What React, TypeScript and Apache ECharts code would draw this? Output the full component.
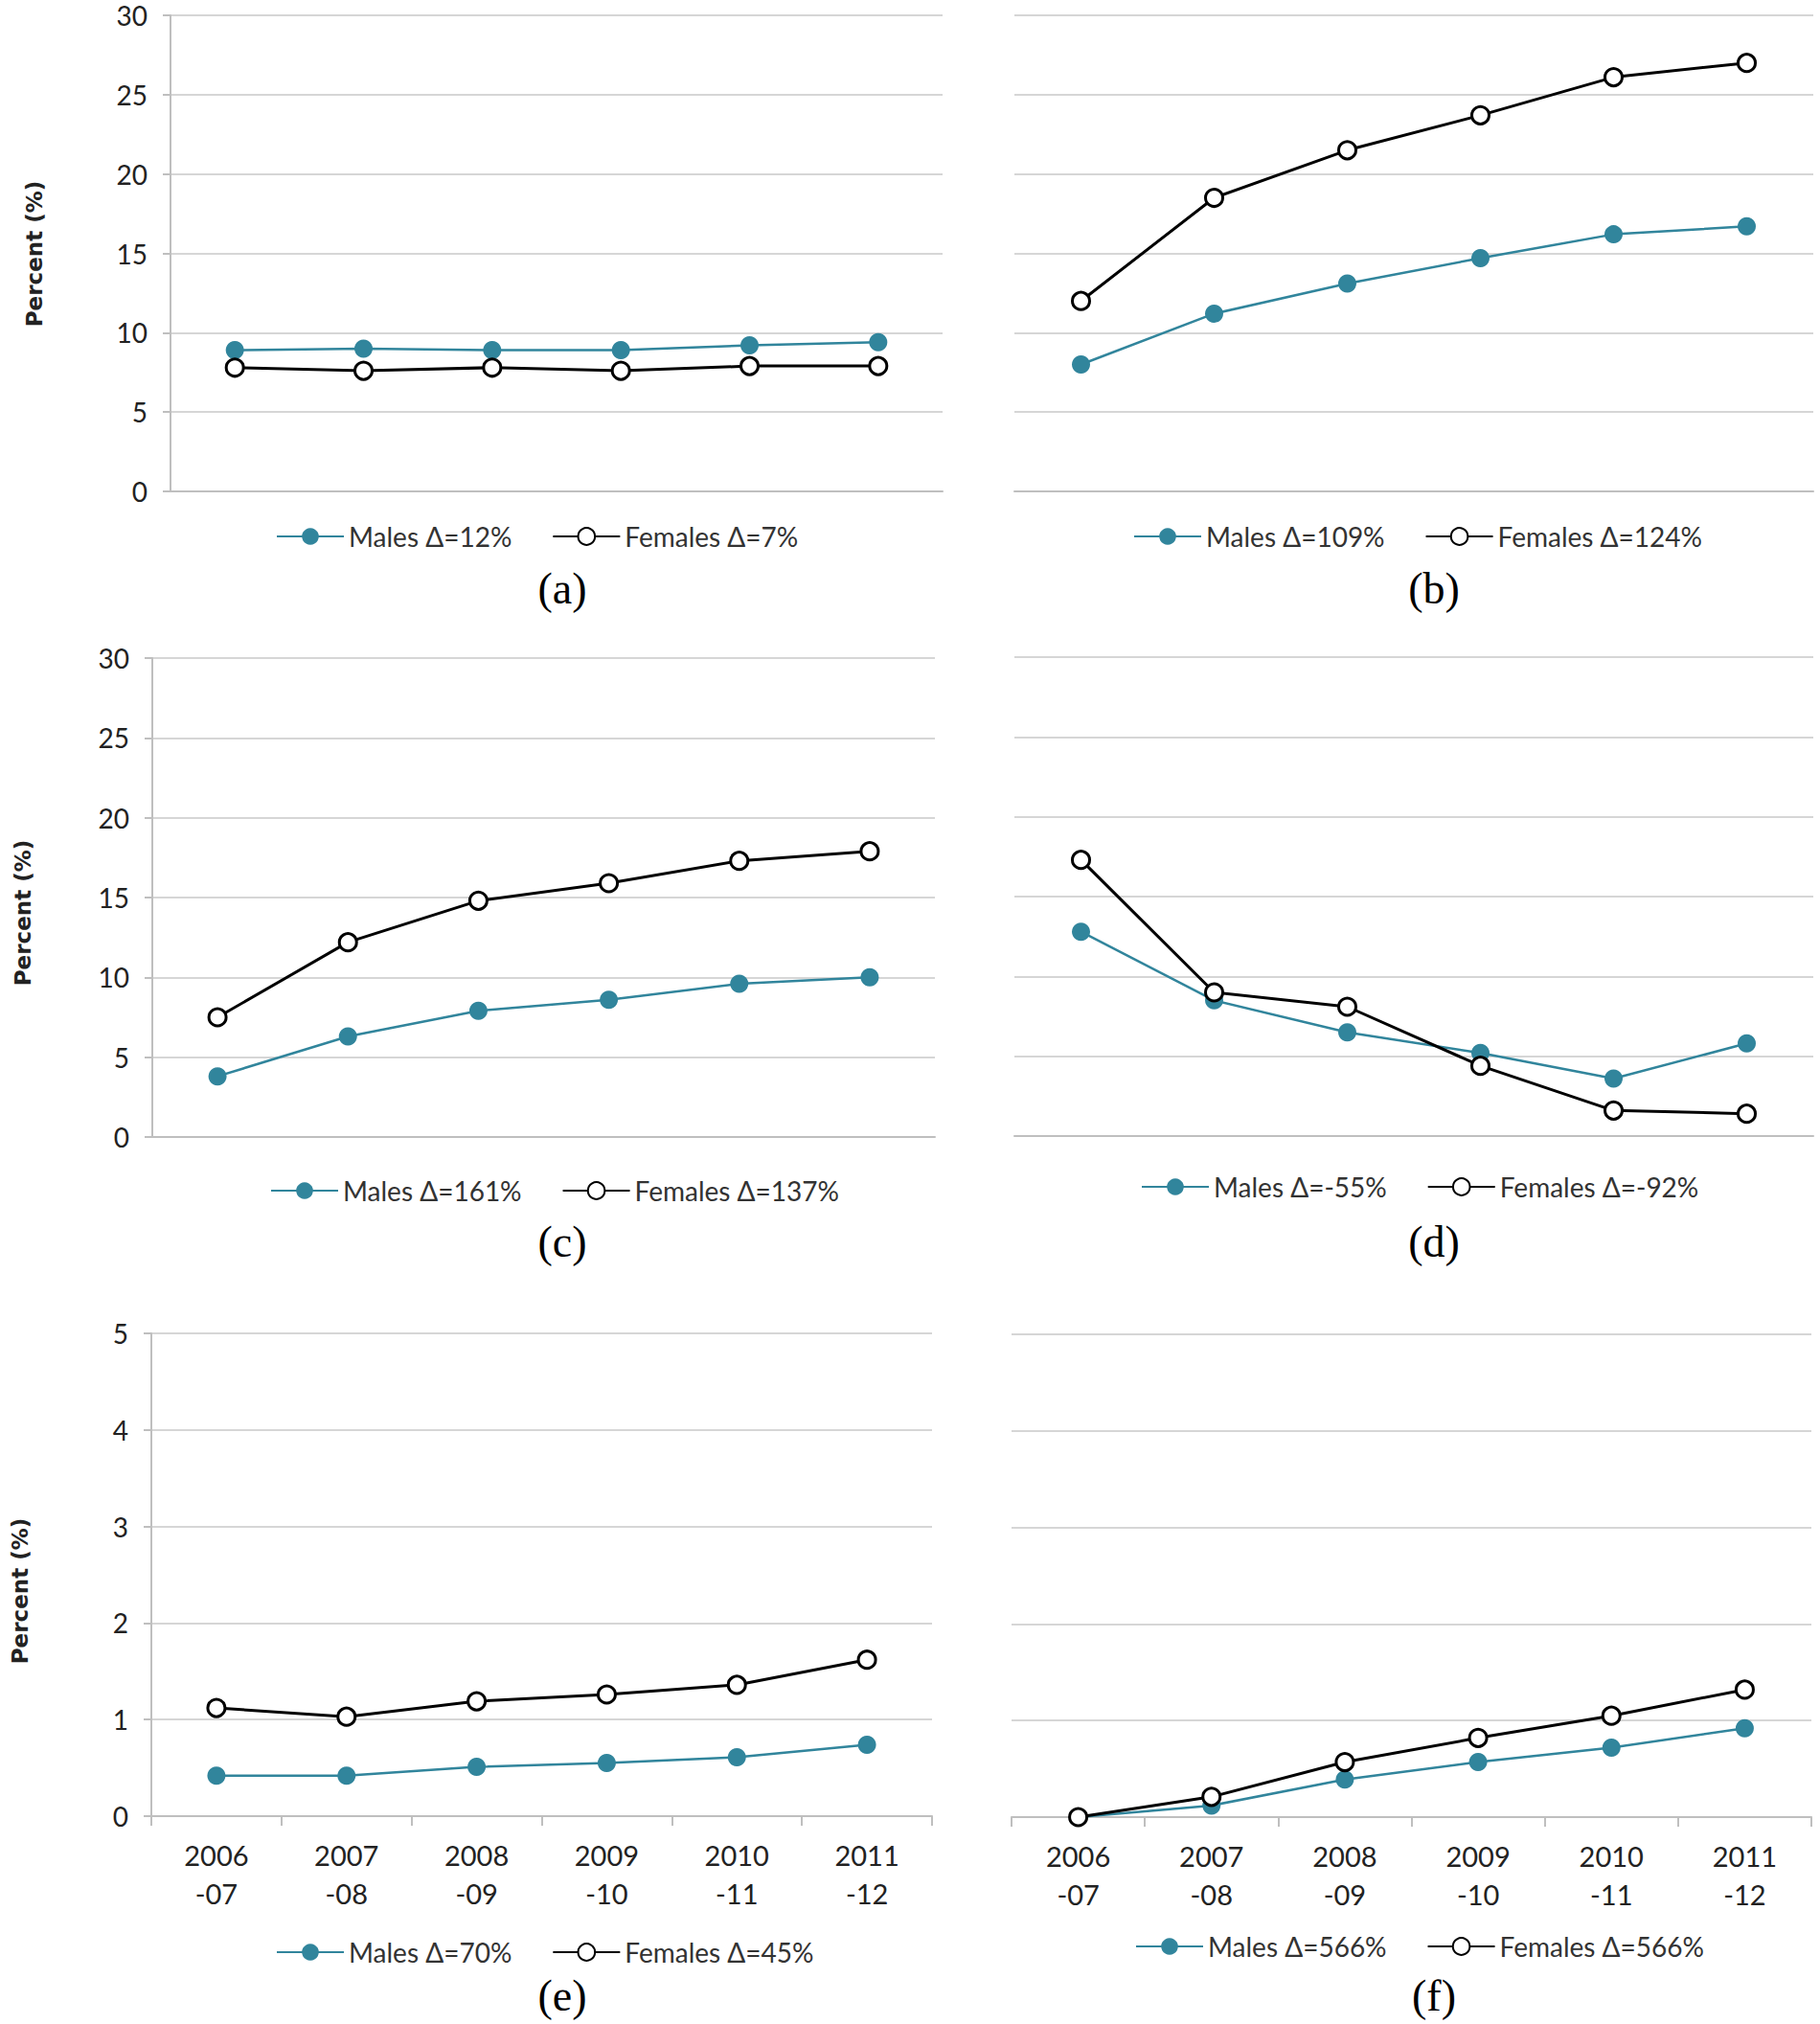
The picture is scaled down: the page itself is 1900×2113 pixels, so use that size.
import React, { useEffect, useRef } from "react";
import * as echarts from "echarts";

const categories = ["2006\n-07", "2007\n-08", "2008\n-09", "2009\n-10", "2010\n-11", "2011\n-12"];

const malesA = [8.9, 9.0, 8.9, 8.9, 9.2, 9.4];
const femalesA = [7.8, 7.6, 7.8, 7.6, 7.9, 7.9];
const malesB = [8.0, 11.2, 13.1, 14.7, 16.2, 16.7];
const femalesB = [12.0, 18.5, 21.5, 23.7, 26.1, 27.0];
const malesC = [3.8, 6.3, 7.9, 8.6, 9.6, 10.0];
const femalesC = [7.5, 12.2, 14.8, 15.9, 17.3, 17.9];
const malesD = [12.8, 8.5, 6.5, 5.2, 3.6, 5.8];
const femalesD = [17.3, 9.0, 8.1, 4.4, 1.6, 1.4];
const malesE = [0.42, 0.42, 0.51, 0.55, 0.61, 0.74];
const femalesE = [1.12, 1.03, 1.19, 1.26, 1.36, 1.62];
const malesF = [0.0, 0.12, 0.39, 0.57, 0.72, 0.92];
const femalesF = [0.0, 0.21, 0.57, 0.82, 1.05, 1.32];

const maleNames = ["Males Δ=12%", "Males Δ=109%", "Males Δ=161%", "Males Δ=-55%", "Males Δ=70%", "Males Δ=566%"];
const femaleNames = ["Females Δ=7%", "Females Δ=124%", "Females Δ=137%", "Females Δ=-92%", "Females Δ=45%", "Females Δ=566%"];
const captions = ["(a)", "(b)", "(c)", "(d)", "(e)", "(f)"];
const yAxisTitle = "Percent (%)";

const TEAL = "#31859c";
const GRID_LINE = "#d6d6d6";
const AXIS_LINE = "#bfbfbf";
const SANS = "Lato, 'Liberation Sans', sans-serif";

const panels = [
  { males: malesA, females: femalesA, max: 30, interval: 5, showY: true, showX: false, grid: { left: 178, top: 16, width: 806, height: 497 }, legend: { left: 283, top: 541 }, cap: [587, 614], yname: [36, 265] },
  { males: malesB, females: femalesB, max: 30, interval: 5, showY: false, showX: false, grid: { left: 1059, top: 16, width: 834, height: 497 }, legend: { left: 1178, top: 541 }, cap: [1497, 614] },
  { males: malesC, females: femalesC, max: 30, interval: 5, showY: true, showX: false, grid: { left: 159, top: 687, width: 817, height: 500 }, legend: { left: 277, top: 1224 }, cap: [587, 1296], yname: [24, 953] },
  { males: malesD, females: femalesD, max: 30, interval: 5, showY: false, showX: false, grid: { left: 1059, top: 686, width: 834, height: 500 }, legend: { left: 1186, top: 1220 }, cap: [1497, 1296] },
  { males: malesE, females: femalesE, max: 5, interval: 1, showY: true, showX: true, grid: { left: 158, top: 1392, width: 815, height: 504 }, legend: { left: 283, top: 2019 }, cap: [587, 2083], yname: [21, 1661] },
  { males: malesF, females: femalesF, max: 5, interval: 1, showY: false, showX: true, grid: { left: 1056, top: 1393, width: 835, height: 504 }, legend: { left: 1180, top: 2013 }, cap: [1497, 2083] },
];

export default function App() {
  const ref = useRef<HTMLDivElement>(null);
  useEffect(() => {
    if (!ref.current) return;
    const chart = echarts.init(ref.current, undefined, { renderer: "svg" });
    const grids: any[] = [];
    const xAxes: any[] = [];
    const yAxes: any[] = [];
    const series: any[] = [];
    const legends: any[] = [];
    const graphics: any[] = [];
    panels.forEach((p, i) => {
      grids.push({ ...p.grid, containLabel: false });
      xAxes.push({
        type: "category",
        gridIndex: i,
        data: categories,
        boundaryGap: true,
        axisLine: { show: true, lineStyle: { color: AXIS_LINE, width: 2 } },
        axisTick: { show: p.showX, length: 10, lineStyle: { color: AXIS_LINE, width: 2 } },
        axisLabel: { show: p.showX, color: "#222", fontFamily: SANS, fontSize: 29, lineHeight: 40, margin: 20 },
      });
      yAxes.push({
        type: "value",
        gridIndex: i,
        min: 0,
        max: p.max,
        interval: p.interval,
        axisLine: { show: p.showY, lineStyle: { color: AXIS_LINE, width: 2 } },
        axisTick: { show: p.showY, length: 8, lineStyle: { color: AXIS_LINE, width: 2 } },
        axisLabel: { show: p.showY, color: "#222", fontFamily: SANS, fontSize: 28, margin: 24 },
        splitLine: { show: true, lineStyle: { color: GRID_LINE, width: 2 } },
      });
      series.push({
        name: maleNames[i],
        type: "line",
        xAxisIndex: i,
        yAxisIndex: i,
        data: p.males,
        symbol: "circle",
        symbolSize: 19,
        lineStyle: { color: TEAL, width: 2.5 },
        itemStyle: { color: TEAL },
      });
      series.push({
        name: femaleNames[i],
        type: "line",
        xAxisIndex: i,
        yAxisIndex: i,
        data: p.females,
        symbol: "circle",
        symbolSize: 18,
        lineStyle: { color: "#000", width: 3 },
        itemStyle: { color: "#fff", borderColor: "#000", borderWidth: 3 },
      });
      legends.push({
        data: [maleNames[i], femaleNames[i]],
        left: p.legend.left,
        top: p.legend.top,
        itemWidth: 70,
        itemHeight: 22,
        itemGap: 42,
        textStyle: { fontFamily: SANS, fontSize: 28, color: "#333" },
        selectedMode: false,
      });
      graphics.push({
        type: "text",
        x: p.cap[0],
        y: p.cap[1],
        style: { text: captions[i], font: "46px 'Liberation Serif', 'Times New Roman', serif", fill: "#000", textAlign: "center", textVerticalAlign: "middle" },
      });
      if (p.yname) {
        graphics.push({
          type: "text",
          x: p.yname[0],
          y: p.yname[1],
          rotation: Math.PI / 2,
          style: { text: yAxisTitle, font: "bold 23px 'DejaVu Sans', sans-serif", fill: "#222", textAlign: "center", textVerticalAlign: "middle" },
        });
      }
    });
    chart.setOption({
      animation: false,
      backgroundColor: "#fff",
      grid: grids,
      xAxis: xAxes,
      yAxis: yAxes,
      series,
      legend: legends,
      graphic: graphics,
    });
    return () => chart.dispose();
  }, []);
  return <div ref={ref} style={{ position: "absolute", left: 0, top: 0, width: 1900, height: 2113 }} />;
}
